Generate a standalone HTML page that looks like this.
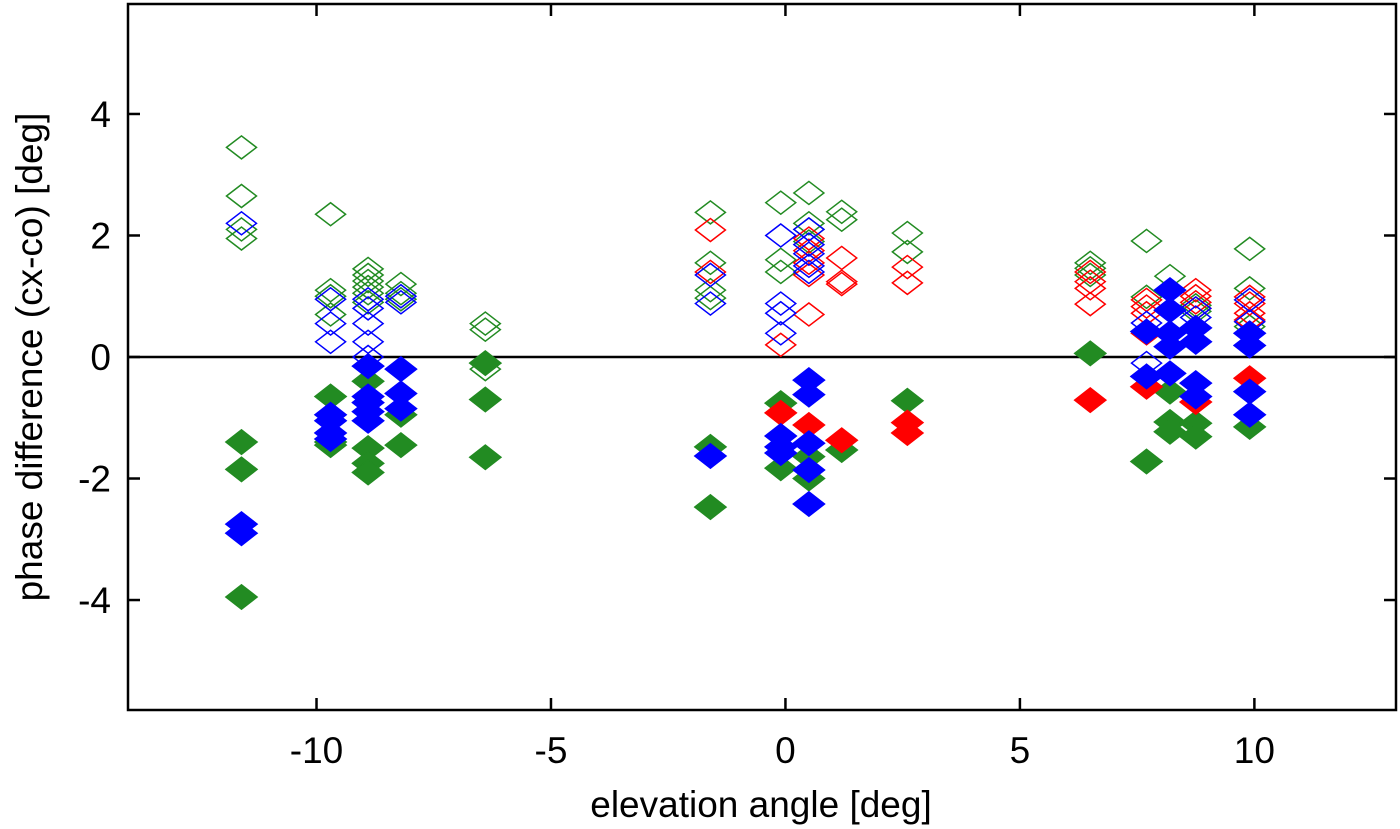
<!DOCTYPE html>
<html><head><meta charset="utf-8"><style>
body{margin:0;background:#fff;}
svg{display:block;font-family:"Liberation Sans",sans-serif;}
</style></head><body>
<svg id="chart" width="1400" height="829"></svg>
<script>
const xTicks=[-10,-5,0,5,10];
const yTicks=[-4,-2,0,2,4];
const openGreen=[[-11.6,3.45],[-11.6,2.65],[-11.6,1.95],[-11.6,2.1],[-9.7,2.35],[-9.7,1.1],[-9.7,1.0],[-9.7,0.7],[-8.9,1.45],[-8.9,1.35],[-8.9,1.25],[-8.9,1.15],[-8.9,1.05],[-8.9,0.9],[-8.2,1.2],[-8.2,1.05],[-8.2,0.95],[-6.4,0.55],[-6.4,0.45],[-6.4,-0.2],[-1.6,2.38],[-1.6,1.55],[-1.6,1.1],[-1.6,0.97],[-0.1,2.54],[-0.1,1.6],[-0.1,1.4],[0.5,2.7],[0.5,2.2],[0.5,2.1],[0.5,1.9],[1.2,2.39],[1.2,2.26],[2.6,2.04],[2.6,1.73],[6.5,1.55],[6.5,1.46],[6.5,1.35],[7.7,1.91],[7.7,0.99],[8.2,1.33],[8.75,0.85],[8.75,0.75],[9.9,1.78],[9.9,1.13],[9.9,0.5]];
const openBlue=[[-11.6,2.2],[-9.7,0.95],[-9.7,0.55],[-9.7,0.25],[-8.9,0.95],[-8.9,0.8],[-8.9,0.55],[-8.9,0.25],[-8.9,0.0],[-8.2,1.0],[-8.2,0.9],[-1.6,1.35],[-1.6,0.88],[-0.1,2.0],[-0.1,0.88],[-0.1,0.72],[-0.1,0.39],[0.5,2.1],[0.5,1.85],[0.5,1.7],[0.5,1.5],[0.5,1.4],[7.7,0.56],[7.7,-0.1],[8.75,0.8],[8.75,0.65],[9.9,0.94],[9.9,0.58]];
const openRed=[[-1.6,2.09],[-1.6,1.4],[-0.1,0.2],[0.5,1.95],[0.5,1.75],[0.5,1.55],[0.5,1.35],[0.5,0.7],[1.2,1.63],[1.2,1.24],[1.2,1.2],[2.6,1.48],[2.6,1.22],[6.5,1.4],[6.5,1.24],[6.5,1.13],[6.5,0.87],[7.7,0.94],[7.7,0.83],[7.7,0.72],[7.7,0.39],[8.75,1.1],[8.75,1.0],[8.75,0.9],[8.75,0.8],[9.9,0.99],[9.9,0.88],[9.9,0.72],[9.9,0.61]];
const fillGreen=[[-11.6,-1.4],[-11.6,-1.85],[-11.6,-3.95],[-9.7,-0.65],[-9.7,-1.4],[-9.7,-1.45],[-8.9,-0.4],[-8.9,-1.5],[-8.9,-1.75],[-8.9,-1.9],[-8.2,-0.95],[-8.2,-1.45],[-6.4,-0.1],[-6.4,-0.7],[-6.4,-1.65],[-1.6,-1.48],[-1.6,-2.47],[-0.1,-0.76],[-0.1,-1.83],[0.5,-1.64],[0.5,-2.0],[1.2,-1.53],[2.6,-0.72],[6.5,0.06],[7.7,-1.72],[8.2,-0.57],[8.2,-1.07],[8.2,-1.23],[8.75,-1.09],[8.75,-1.31],[9.9,-1.15]];
const fillRed=[[-0.1,-0.92],[0.5,-1.12],[1.2,-1.37],[2.6,-1.08],[2.6,-1.25],[6.5,-0.71],[7.7,-0.49],[8.75,-0.74],[9.9,-0.35]];
const fillBlue=[[-11.6,-2.75],[-11.6,-2.9],[-9.7,-0.95],[-9.7,-1.05],[-9.7,-1.25],[-9.7,-1.35],[-8.9,-0.15],[-8.9,-0.65],[-8.9,-0.75],[-8.9,-0.9],[-8.9,-1.05],[-8.2,-0.2],[-8.2,-0.6],[-8.2,-0.85],[-1.6,-1.63],[-0.1,-1.3],[-0.1,-1.48],[-0.1,-1.58],[0.5,-0.38],[0.5,-0.62],[0.5,-1.42],[0.5,-1.86],[0.5,-2.42],[7.7,0.42],[7.7,-0.32],[8.2,1.1],[8.2,0.77],[8.2,0.39],[8.2,0.17],[8.2,-0.27],[8.75,0.48],[8.75,0.25],[8.75,-0.43],[8.75,-0.65],[9.9,0.39],[9.9,0.19],[9.9,-0.57],[9.9,-0.95]];

const L=128,R=1396,T=4,B=710;
const xMin=-14.02,xMax=13.02,yMin=-5.81,yMax=5.81;
const sx=v=>L+(v-xMin)/(xMax-xMin)*(R-L);
const sy=v=>B-(v-yMin)/(yMax-yMin)*(B-T);
const svg=document.getElementById('chart');
const NS='http://www.w3.org/2000/svg';
function mk(tag,attrs){const e=document.createElementNS(NS,tag);for(const k in attrs)e.setAttribute(k,attrs[k]);svg.appendChild(e);return e;}

let zl=mk('line',{x1:L,x2:R,y1:sy(0),y2:sy(0),stroke:'#000','stroke-width':2.5});



xTicks.forEach(v=>{
  const x=sx(v);
  let t1=mk('line',{x1:x,x2:x,y1:B,y2:B-12,stroke:'#000','stroke-width':2.5});
  
  
  let t2=mk('line',{x1:x,x2:x,y1:T,y2:T+12,stroke:'#000','stroke-width':2.5});
  
  
  let tx=mk('text',{x:x,y:763,'text-anchor':'middle','font-size':37});
  tx.textContent=String(v);
  
  
});
yTicks.forEach(v=>{
  const y=sy(v);
  let t1=mk('line',{x1:L,x2:L+12,y1:y,y2:y,stroke:'#000','stroke-width':2.5});
  
  
  let t2=mk('line',{x1:R,x2:R-12,y1:y,y2:y,stroke:'#000','stroke-width':2.5});
  
  
  let tx=mk('text',{x:111,y:y+13,'text-anchor':'end','font-size':37});
  tx.textContent=String(v);
  
  
});

function diamonds(arr,color,filled,name){
  arr.forEach(p=>{
    const x=sx(p[0]),y=sy(p[1]);
    const w=filled?16:15,h=filled?12.5:11.5;
    const d=mk('polygon',{points:`${x-w},${y} ${x},${y-h} ${x+w},${y} ${x},${y+h}`,
      fill:filled?color:'none',stroke:color,'stroke-width':filled?1:1.5});
    
    
  });
}
diamonds(openGreen,'#228b22',false,'open-green-point');
diamonds(openRed,'#ff0000',false,'open-red-point');
diamonds(openBlue,'#0000ff',false,'open-blue-point');
diamonds(fillGreen,'#228b22',true,'filled-green-point');
diamonds(fillRed,'#ff0000',true,'filled-red-point');
diamonds(fillBlue,'#0000ff',true,'filled-blue-point');

let fr=mk('rect',{x:L,y:T,width:R-L,height:B-T,fill:'none',stroke:'#000','stroke-width':2.5});



let xt=mk('text',{x:761,y:817,'text-anchor':'middle','font-size':37});
xt.textContent='elevation angle [deg]';


let yt=mk('text',{x:0,y:0,'text-anchor':'middle','font-size':37,transform:`translate(42,${(T+B)/2}) rotate(-90)`});
yt.textContent='phase difference (cx-co) [deg]';


</script>
</body></html>
